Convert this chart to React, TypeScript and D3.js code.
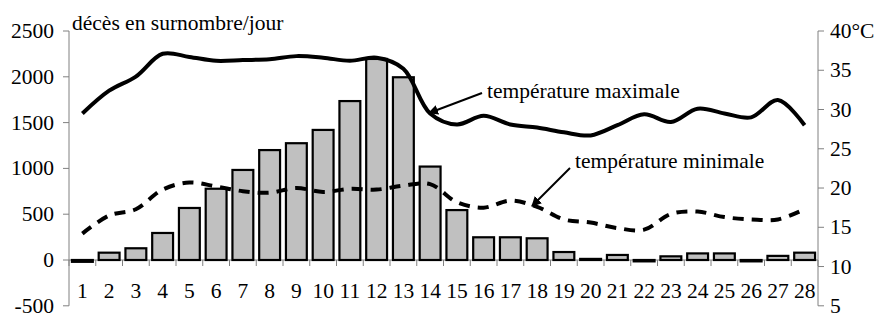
import React from 'react';
import * as d3 from 'd3';

// jours d'août
const days = d3.range(1, 29).map(String);
// décès en surnombre par jour
const deaths = [-20, 80, 128, 295, 568, 778, 983, 1200, 1275, 1420, 1735, 2195, 1995, 1020, 545, 248, 248, 237, 87, 12, 55, -15, 40, 72, 72, -15, 45, 80];
// températures (°C)
const tMax = [29.5, 32.4, 34.2, 37.1, 36.7, 36.2, 36.3, 36.4, 36.8, 36.6, 36.2, 36.6, 35.2, 29.5, 28.1, 29.2, 28.1, 27.7, 27.1, 26.7, 28.0, 29.4, 28.4, 30.1, 29.5, 29.0, 31.2, 28.0];
const tMin = [14.2, 16.5, 17.3, 19.8, 20.7, 20.2, 19.6, 19.4, 20.0, 19.5, 19.9, 19.8, 20.3, 20.5, 18.2, 17.5, 18.4, 17.6, 16.0, 15.6, 14.9, 14.7, 16.7, 17.0, 16.3, 16.0, 16.0, 17.3];
const leftTicks = [-500, 0, 500, 1000, 1500, 2000, 2500];
const rightTicks = [5, 10, 15, 20, 25, 30, 35, 40];

const W = 877, H = 314;

export default function App() {
  const x = d3.scaleBand().domain(days).range([69, 818]).paddingInner(0.22).paddingOuter(0.11);
  const yL = d3.scaleLinear().domain([-500, 2500]).range([305.8, 31]);
  const yR = d3.scaleLinear().domain([5, 40]).range([305.8, 31]);
  const cx = (d: string) => (x(d) as number) + x.bandwidth() / 2;

  const line = (vals: number[]) =>
    d3.line<number>()
      .x((_, i) => cx(days[i]))
      .y(v => yR(v))
      .curve(d3.curveCatmullRom.alpha(0.5))(vals) as string;

  const y0 = yL(0);
  const step = x.step();
  const ts = { fontFamily: 'Liberation Serif', fontSize: 21.5 };

  return (
    <div style={{ position: 'absolute', left: 0, top: 0 }}>
      <svg width={W} height={H} style={{ display: 'block', background: '#fff' }}>
        <defs>
          <marker id="ah" viewBox="0 0 10 10" refX="9" refY="5" markerWidth="5" markerHeight="5" orient="auto">
            <path d="M0,0 L10,5 L0,10 z" fill="#000" />
          </marker>
        </defs>

        {/* axe gauche */}
        <line x1={69} x2={69} y1={yL(2500)} y2={yL(-500)} stroke="#808080" />
        {leftTicks.map(t => (
          <g key={t}>
            <line x1={63} x2={69} y1={yL(t)} y2={yL(t)} stroke="#808080" />
            <text x={54} y={yL(t)} dy="0.33em" textAnchor="end" style={ts}>{t}</text>
          </g>
        ))}

        {/* axe droit */}
        <line x1={818} x2={818} y1={yR(40)} y2={yR(5)} stroke="#808080" />
        {rightTicks.map(t => (
          <g key={t}>
            <line x1={818} x2={824} y1={yR(t)} y2={yR(t)} stroke="#808080" />
            <text x={830} y={yR(t)} dy="0.33em" style={ts}>{t === 40 ? '40°C' : t}</text>
          </g>
        ))}

        {/* axe des x */}
        <line x1={69} x2={818} y1={y0} y2={y0} stroke="#808080" />
        {d3.range(29).map(i => (
          <line key={i} x1={69 + i * step} x2={69 + i * step} y1={y0} y2={y0 + 6} stroke="#808080" />
        ))}
        {days.map(d => (
          <text key={d} x={cx(d)} y={298} textAnchor="middle" style={ts}>{d}</text>
        ))}

        {/* barres */}
        {deaths.map((v, i) => {
          const top = Math.min(yL(v), y0);
          const h = Math.max(Math.abs(yL(v) - y0), 1);
          return (
            <rect key={i} x={x(days[i])} y={top} width={x.bandwidth()} height={h}
              fill="#c0c0c0" stroke="#000" strokeWidth={2.2} />
          );
        })}

        {/* températures */}
        <path d={line(tMax)} fill="none" stroke="#000" strokeWidth={4} />
        <path d={line(tMin)} fill="none" stroke="#000" strokeWidth={4} strokeDasharray="11 8" />

        {/* titres et annotations */}
        <text x={72} y={30} style={ts}>décès en surnombre/jour</text>
        <text x={487} y={98} style={ts}>température maximale</text>
        <line x1={482} y1={93} x2={429} y2={113} stroke="#000" strokeWidth={2} markerEnd="url(#ah)" />
        <text x={575} y={168} style={ts}>température minimale</text>
        <line x1={570} y1={168} x2={532} y2={206} stroke="#000" strokeWidth={2} markerEnd="url(#ah)" />
      </svg>
    </div>
  );
}
